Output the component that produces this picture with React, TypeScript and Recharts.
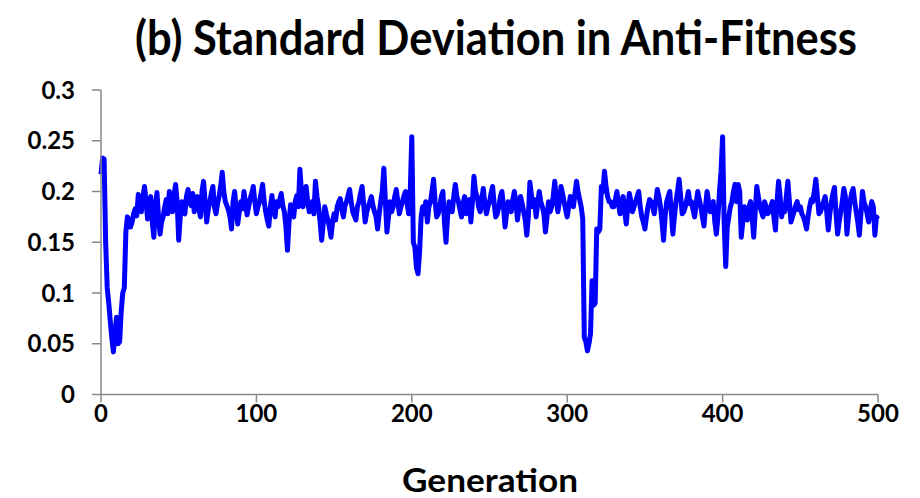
import { LineChart, Line, XAxis, YAxis } from 'recharts';

document.body.style.margin = '0';

// standard deviation of anti-fitness, one value per generation (0 ... 500)
const sdValues = [
  0.217, 0.233, 0.232, 0.15, 0.105, 0.09, 0.072, 0.055, 0.042, 0.06,
  0.076, 0.05, 0.052, 0.082, 0.1, 0.105, 0.16, 0.175, 0.172, 0.165,
  0.17, 0.178, 0.183, 0.176, 0.197, 0.188, 0.18, 0.195, 0.205, 0.19,
  0.173, 0.188, 0.195, 0.17, 0.155, 0.185, 0.199, 0.176, 0.158, 0.17,
  0.175, 0.185, 0.192, 0.178, 0.2, 0.19, 0.18, 0.196, 0.207, 0.19,
  0.152, 0.175, 0.19, 0.182, 0.178, 0.195, 0.202, 0.19, 0.186, 0.198,
  0.18, 0.188, 0.195, 0.183, 0.175, 0.2, 0.21, 0.19, 0.17, 0.182,
  0.19, 0.198, 0.205, 0.185, 0.178, 0.188, 0.195, 0.205, 0.219, 0.2,
  0.19, 0.186, 0.182, 0.175, 0.163, 0.19, 0.2, 0.182, 0.168, 0.18,
  0.19, 0.183, 0.2, 0.188, 0.177, 0.185, 0.193, 0.198, 0.205, 0.19,
  0.178, 0.185, 0.19, 0.198, 0.207, 0.19, 0.18, 0.172, 0.166, 0.185,
  0.196, 0.183, 0.175, 0.19, 0.185, 0.192, 0.198, 0.186, 0.18, 0.165,
  0.142, 0.17, 0.187, 0.18, 0.175, 0.19, 0.196, 0.185, 0.222, 0.2,
  0.185, 0.195, 0.205, 0.19, 0.18, 0.186, 0.19, 0.178, 0.21, 0.195,
  0.185, 0.17, 0.152, 0.168, 0.185, 0.178, 0.172, 0.165, 0.155, 0.17,
  0.178, 0.172, 0.185, 0.19, 0.193, 0.182, 0.175, 0.186, 0.19, 0.196,
  0.202, 0.19, 0.18, 0.176, 0.172, 0.185, 0.19, 0.198, 0.205, 0.188,
  0.17, 0.18, 0.185, 0.19, 0.195, 0.186, 0.18, 0.175, 0.163, 0.178,
  0.19, 0.2, 0.223, 0.19, 0.16, 0.175, 0.19, 0.18, 0.185, 0.195,
  0.202, 0.19, 0.178, 0.185, 0.19, 0.196, 0.2, 0.188, 0.178, 0.2,
  0.254, 0.15, 0.145, 0.125, 0.119, 0.14, 0.175, 0.185, 0.178, 0.19,
  0.17, 0.185, 0.19, 0.2, 0.212, 0.19, 0.175, 0.178, 0.185, 0.195,
  0.2, 0.17, 0.15, 0.175, 0.19, 0.185, 0.18, 0.195, 0.207, 0.195,
  0.19, 0.182, 0.175, 0.188, 0.195, 0.178, 0.185, 0.192, 0.17, 0.19,
  0.215, 0.2, 0.195, 0.185, 0.18, 0.192, 0.203, 0.188, 0.178, 0.185,
  0.19, 0.198, 0.205, 0.188, 0.175, 0.178, 0.185, 0.195, 0.2, 0.185,
  0.165, 0.178, 0.19, 0.186, 0.18, 0.192, 0.2, 0.19, 0.172, 0.185,
  0.195, 0.188, 0.18, 0.172, 0.157, 0.175, 0.209, 0.196, 0.185, 0.192,
  0.175, 0.188, 0.2, 0.19, 0.185, 0.178, 0.16, 0.175, 0.19, 0.18,
  0.185, 0.195, 0.21, 0.192, 0.18, 0.19, 0.205, 0.198, 0.19, 0.182,
  0.175, 0.185, 0.195, 0.19, 0.185, 0.198, 0.21, 0.2, 0.192, 0.185,
  0.173, 0.056, 0.052, 0.043, 0.05, 0.06, 0.112, 0.088, 0.09, 0.163,
  0.16, 0.163, 0.205, 0.2, 0.22, 0.205, 0.195, 0.19, 0.19, 0.185,
  0.185, 0.192, 0.2, 0.188, 0.178, 0.19, 0.195, 0.18, 0.168, 0.185,
  0.198, 0.19, 0.18, 0.185, 0.19, 0.195, 0.2, 0.185, 0.175, 0.17,
  0.163, 0.175, 0.185, 0.192, 0.19, 0.185, 0.178, 0.19, 0.202, 0.195,
  0.185, 0.17, 0.152, 0.175, 0.19, 0.195, 0.2, 0.18, 0.158, 0.175,
  0.19, 0.2, 0.212, 0.195, 0.178, 0.18, 0.185, 0.192, 0.2, 0.188,
  0.19, 0.182, 0.175, 0.188, 0.2, 0.192, 0.185, 0.175, 0.166, 0.185,
  0.2, 0.19, 0.18, 0.185, 0.19, 0.17, 0.158, 0.175, 0.2, 0.22,
  0.254, 0.17, 0.126, 0.165, 0.175, 0.185, 0.19, 0.2, 0.207, 0.19,
  0.207, 0.2, 0.155, 0.17, 0.185, 0.18, 0.172, 0.185, 0.19, 0.175,
  0.155, 0.18, 0.205, 0.195, 0.185, 0.18, 0.175, 0.19, 0.185, 0.178,
  0.18, 0.185, 0.19, 0.175, 0.162, 0.19, 0.21, 0.195, 0.175, 0.185,
  0.18, 0.195, 0.21, 0.19, 0.17, 0.175, 0.18, 0.186, 0.19, 0.182,
  0.185, 0.178, 0.175, 0.17, 0.163, 0.175, 0.185, 0.192, 0.19, 0.2,
  0.212, 0.195, 0.178, 0.18, 0.185, 0.19, 0.195, 0.18, 0.162, 0.178,
  0.19, 0.198, 0.204, 0.178, 0.158, 0.17, 0.18, 0.19, 0.203, 0.195,
  0.158, 0.175, 0.19, 0.198, 0.203, 0.19, 0.18, 0.17, 0.157, 0.178,
  0.2, 0.19, 0.185, 0.178, 0.17, 0.182, 0.19, 0.185, 0.157, 0.175,
  0.173,
];

const xTicks = [0, 100, 200, 300, 400, 500];
const yTicks = [0, 0.05, 0.1, 0.15, 0.2, 0.25, 0.3];

const titleText = '(b) Standard Deviation in Anti-Fitness';
const xLabel = 'Generation';

const font = 'Lato, "Open Sans", sans-serif';
const axisGray = '#898989';

export default function App() {
  const data = sdValues.map((v, i) => ({ gen: i, sd: v }));
  const tickStyle = { fill: '#000', fontSize: 24, fontWeight: 700, fontFamily: font };

  return (
    <div style={{ position: 'relative', width: 920, height: 498, background: '#fff', fontFamily: font }}>
      <LineChart width={920} height={498} data={data} margin={{ top: 90, right: 42, bottom: 0, left: 0 }}>
        <XAxis
          dataKey="gen"
          type="number"
          domain={[0, 500]}
          ticks={xTicks}
          interval={0}
          height={103.5}
          tickSize={8}
          tickMargin={2}
          stroke={axisGray}
          strokeWidth={1.5}
          tick={tickStyle}
        />
        <YAxis
          type="number"
          domain={[0, 0.3]}
          ticks={yTicks}
          interval={0}
          width={101}
          tickSize={9}
          tickMargin={17}
          stroke={axisGray}
          strokeWidth={1.5}
          tick={tickStyle}
        />
        <Line
          type="linear"
          dataKey="sd"
          stroke="#0000ff"
          strokeWidth={5}
          strokeLinejoin="round"
          dot={false}
          isAnimationActive={false}
        />
      </LineChart>
      <svg width={920} height={498} style={{ position: 'absolute', left: 0, top: 0, pointerEvents: 'none' }}>
        <text x={496} y={55} textAnchor="middle" fontSize={47} fontWeight={700} fontFamily={font}
          textLength={722} lengthAdjust="spacingAndGlyphs" fill="#000">
          {titleText}
        </text>
        <text x={490} y={492} textAnchor="middle" fontSize={32} fontWeight={700} fontFamily={font}
          textLength={176} lengthAdjust="spacingAndGlyphs" fill="#000">
          {xLabel}
        </text>
      </svg>
    </div>
  );
}
